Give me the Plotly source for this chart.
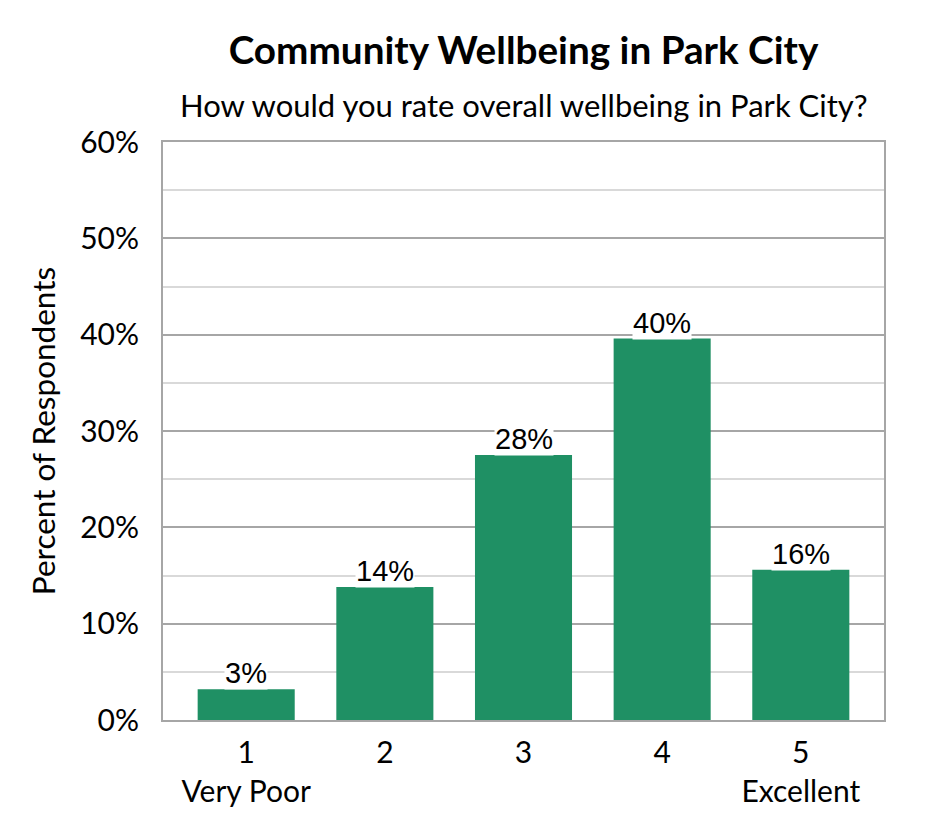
import plotly.graph_objects as go

categories = ["1<br>Very Poor", "2", "3", "4", "5<br>Excellent"]
values = [3.2, 13.8, 27.5, 39.6, 15.6]
labels = ["3%", "14%", "28%", "40%", "16%"]
tick_vals = [0, 10, 20, 30, 40, 50, 60]
tick_text = ["0%", "10%", "20%", "30%", "40%", "50%", "60%"]

BAR = "#1f9064"
FONT = "Lato"

fig = go.Figure()
fig.add_trace(go.Bar(
    x=list(range(len(categories))), y=values,
    marker=dict(color=BAR, line=dict(width=0)),
    width=0.7, hoverinfo="skip",
))

for i, (v, t) in enumerate(zip(values, labels)):
    fig.add_annotation(
        x=i, y=v, text=t, showarrow=False, yanchor="bottom", yshift=-1,
        font=dict(family="Liberation Sans, Arial", size=29, color="#000000"),
        bgcolor="white", borderpad=0,
    )

fig.update_layout(
    width=937, height=832,
    margin=dict(l=155, r=61, t=134, b=120),
    paper_bgcolor="white", plot_bgcolor="white",
    showlegend=False,
    font=dict(family=FONT, color="#000000"),
    title=dict(
        text="<b>Community Wellbeing in Park City</b>",
        xref="paper", x=0.5, xanchor="center", y=0.9495, yanchor="middle",
        font=dict(family=FONT, size=38.7, color="#000000"),
    ),
    xaxis=dict(
        tickmode="array", tickvals=list(range(len(categories))), ticktext=categories,
        range=[-0.6, 4.6], showgrid=False, zeroline=False,
        showline=True, linecolor="#a6a6a6", linewidth=2, mirror=True,
        ticks="", tickfont=dict(family=FONT, size=30), ticklabelstandoff=5,
    ),
    yaxis=dict(
        range=[0, 60], tickmode="array", tickvals=tick_vals, ticktext=tick_text,
        showgrid=True, gridcolor="#a6a6a6", gridwidth=2,
        minor=dict(dtick=5, showgrid=True, gridcolor="#d9d9d9", gridwidth=1.5),
        zeroline=False, showline=True, linecolor="#a6a6a6", linewidth=2, mirror=True,
        ticks="", tickfont=dict(family=FONT, size=30), ticklabelstandoff=16,
        title=dict(text="Percent of Respondents", font=dict(family=FONT, size=31.5), standoff=15),
    ),
)

fig.add_annotation(
    text="How would you rate overall wellbeing in Park City?",
    xref="paper", yref="paper", x=0.5, y=1.0, yshift=37,
    xanchor="center", yanchor="middle", showarrow=False,
    font=dict(family=FONT, size=31, color="#000000"),
)
fig.update_xaxes(layer="above traces")

fig.write_html("out.html")
